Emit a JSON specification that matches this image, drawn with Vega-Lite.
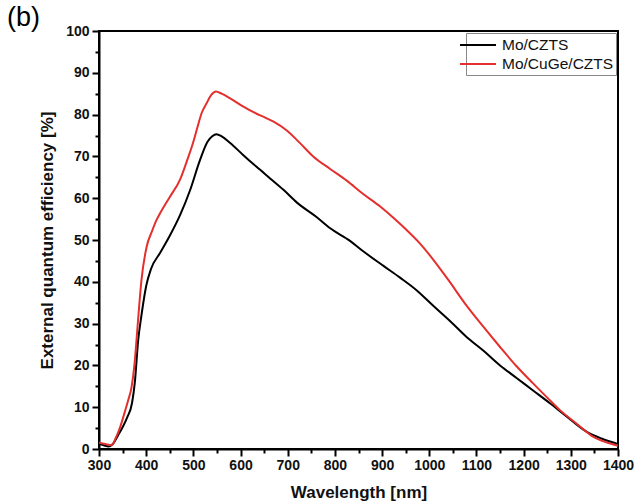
{
  "$schema": "https://vega.github.io/schema/vega-lite/v6.json",
  "width": 519,
  "height": 418,
  "autosize": "none",
  "padding": {"left": 99, "top": 31, "right": 18, "bottom": 53},
  "background": "white",
  "title": {"text": "(b)", "anchor": "start", "frame": "group", "fontSize": 27, "fontWeight": "normal", "font": "Liberation Sans", "dx": -92, "dy": 10, "offset": 2, "color": "black"},
  "config": {
    "view": {"stroke": "black", "strokeWidth": 2},
    "axis": {"domainColor": "black", "domainWidth": 2, "tickColor": "black", "tickWidth": 2, "labelFont": "Liberation Sans", "labelFontWeight": "bold", "labelFontSize": 14, "labelColor": "#111", "titleFont": "Liberation Sans", "titleFontWeight": "bold", "titleFontSize": 17, "titleColor": "#111", "grid": false}
  },
  "data": {"values": [
    {"wl":300,"eqe":1.2,"s":"Mo/CZTS"},{"wl":310,"eqe":0.9,"s":"Mo/CZTS"},{"wl":320,"eqe":0.6,"s":"Mo/CZTS"},{"wl":330,"eqe":1.3,"s":"Mo/CZTS"},{"wl":340,"eqe":3.2,"s":"Mo/CZTS"},{"wl":350,"eqe":5.2,"s":"Mo/CZTS"},{"wl":360,"eqe":7.6,"s":"Mo/CZTS"},{"wl":370,"eqe":11,"s":"Mo/CZTS"},{"wl":376,"eqe":16,"s":"Mo/CZTS"},{"wl":383,"eqe":26,"s":"Mo/CZTS"},{"wl":390,"eqe":32,"s":"Mo/CZTS"},{"wl":400,"eqe":39,"s":"Mo/CZTS"},{"wl":410,"eqe":43,"s":"Mo/CZTS"},{"wl":430,"eqe":47,"s":"Mo/CZTS"},{"wl":450,"eqe":51,"s":"Mo/CZTS"},{"wl":472,"eqe":56,"s":"Mo/CZTS"},{"wl":493,"eqe":61.9,"s":"Mo/CZTS"},{"wl":514,"eqe":69.1,"s":"Mo/CZTS"},{"wl":530,"eqe":73.5,"s":"Mo/CZTS"},{"wl":540,"eqe":74.8,"s":"Mo/CZTS"},{"wl":549,"eqe":75.3,"s":"Mo/CZTS"},{"wl":560,"eqe":74.8,"s":"Mo/CZTS"},{"wl":578,"eqe":73.2,"s":"Mo/CZTS"},{"wl":606,"eqe":70.3,"s":"Mo/CZTS"},{"wl":634,"eqe":67.5,"s":"Mo/CZTS"},{"wl":662,"eqe":64.8,"s":"Mo/CZTS"},{"wl":691,"eqe":62,"s":"Mo/CZTS"},{"wl":719,"eqe":59,"s":"Mo/CZTS"},{"wl":761,"eqe":55.5,"s":"Mo/CZTS"},{"wl":790,"eqe":52.8,"s":"Mo/CZTS"},{"wl":832,"eqe":49.8,"s":"Mo/CZTS"},{"wl":860,"eqe":47.3,"s":"Mo/CZTS"},{"wl":903,"eqe":43.8,"s":"Mo/CZTS"},{"wl":938,"eqe":41,"s":"Mo/CZTS"},{"wl":973,"eqe":38,"s":"Mo/CZTS"},{"wl":1009,"eqe":34.2,"s":"Mo/CZTS"},{"wl":1045,"eqe":30.5,"s":"Mo/CZTS"},{"wl":1079,"eqe":26.8,"s":"Mo/CZTS"},{"wl":1115,"eqe":23.5,"s":"Mo/CZTS"},{"wl":1150,"eqe":20,"s":"Mo/CZTS"},{"wl":1185,"eqe":17,"s":"Mo/CZTS"},{"wl":1220,"eqe":14,"s":"Mo/CZTS"},{"wl":1255,"eqe":11,"s":"Mo/CZTS"},{"wl":1291,"eqe":7.8,"s":"Mo/CZTS"},{"wl":1334,"eqe":4.1,"s":"Mo/CZTS"},{"wl":1365,"eqe":2.5,"s":"Mo/CZTS"},{"wl":1400,"eqe":1.2,"s":"Mo/CZTS"},
    {"wl":300,"eqe":1.5,"s":"Mo/CuGe/CZTS"},{"wl":313,"eqe":1.2,"s":"Mo/CuGe/CZTS"},{"wl":327,"eqe":0.9,"s":"Mo/CuGe/CZTS"},{"wl":335,"eqe":2.5,"s":"Mo/CuGe/CZTS"},{"wl":345,"eqe":5.3,"s":"Mo/CuGe/CZTS"},{"wl":355,"eqe":9,"s":"Mo/CuGe/CZTS"},{"wl":362,"eqe":11.7,"s":"Mo/CuGe/CZTS"},{"wl":369,"eqe":14.8,"s":"Mo/CuGe/CZTS"},{"wl":375,"eqe":20,"s":"Mo/CuGe/CZTS"},{"wl":380,"eqe":26.8,"s":"Mo/CuGe/CZTS"},{"wl":385,"eqe":34,"s":"Mo/CuGe/CZTS"},{"wl":390,"eqe":40.4,"s":"Mo/CuGe/CZTS"},{"wl":401,"eqe":48.4,"s":"Mo/CuGe/CZTS"},{"wl":412,"eqe":52,"s":"Mo/CuGe/CZTS"},{"wl":422,"eqe":54.8,"s":"Mo/CuGe/CZTS"},{"wl":430,"eqe":56.5,"s":"Mo/CuGe/CZTS"},{"wl":450,"eqe":60.3,"s":"Mo/CuGe/CZTS"},{"wl":472,"eqe":64.5,"s":"Mo/CuGe/CZTS"},{"wl":486,"eqe":68.8,"s":"Mo/CuGe/CZTS"},{"wl":500,"eqe":73.5,"s":"Mo/CuGe/CZTS"},{"wl":507,"eqe":76.3,"s":"Mo/CuGe/CZTS"},{"wl":518,"eqe":80.5,"s":"Mo/CuGe/CZTS"},{"wl":528,"eqe":82.7,"s":"Mo/CuGe/CZTS"},{"wl":538,"eqe":84.7,"s":"Mo/CuGe/CZTS"},{"wl":548,"eqe":85.5,"s":"Mo/CuGe/CZTS"},{"wl":560,"eqe":85,"s":"Mo/CuGe/CZTS"},{"wl":578,"eqe":83.9,"s":"Mo/CuGe/CZTS"},{"wl":606,"eqe":81.9,"s":"Mo/CuGe/CZTS"},{"wl":634,"eqe":80.2,"s":"Mo/CuGe/CZTS"},{"wl":648,"eqe":79.5,"s":"Mo/CuGe/CZTS"},{"wl":670,"eqe":78.3,"s":"Mo/CuGe/CZTS"},{"wl":698,"eqe":76.2,"s":"Mo/CuGe/CZTS"},{"wl":725,"eqe":73.3,"s":"Mo/CuGe/CZTS"},{"wl":754,"eqe":70,"s":"Mo/CuGe/CZTS"},{"wl":790,"eqe":67,"s":"Mo/CuGe/CZTS"},{"wl":825,"eqe":64.2,"s":"Mo/CuGe/CZTS"},{"wl":860,"eqe":61,"s":"Mo/CuGe/CZTS"},{"wl":896,"eqe":58,"s":"Mo/CuGe/CZTS"},{"wl":925,"eqe":55.2,"s":"Mo/CuGe/CZTS"},{"wl":952,"eqe":52.4,"s":"Mo/CuGe/CZTS"},{"wl":980,"eqe":49.2,"s":"Mo/CuGe/CZTS"},{"wl":1005,"eqe":45.8,"s":"Mo/CuGe/CZTS"},{"wl":1040,"eqe":40.5,"s":"Mo/CuGe/CZTS"},{"wl":1079,"eqe":34.3,"s":"Mo/CuGe/CZTS"},{"wl":1115,"eqe":29.2,"s":"Mo/CuGe/CZTS"},{"wl":1150,"eqe":24.4,"s":"Mo/CuGe/CZTS"},{"wl":1185,"eqe":19.8,"s":"Mo/CuGe/CZTS"},{"wl":1220,"eqe":15.7,"s":"Mo/CuGe/CZTS"},{"wl":1250,"eqe":12.3,"s":"Mo/CuGe/CZTS"},{"wl":1277,"eqe":9.3,"s":"Mo/CuGe/CZTS"},{"wl":1313,"eqe":6,"s":"Mo/CuGe/CZTS"},{"wl":1348,"eqe":2.9,"s":"Mo/CuGe/CZTS"},{"wl":1375,"eqe":1.6,"s":"Mo/CuGe/CZTS"},{"wl":1400,"eqe":0.8,"s":"Mo/CuGe/CZTS"}
  ]},
  "mark": {"type": "line", "strokeWidth": 2, "interpolate": "monotone", "clip": true},
  "encoding": {
    "x": {"field": "wl", "type": "quantitative", "scale": {"domain": [300, 1400], "nice": false, "zero": false},
      "axis": {"title": "Wavelength [nm]", "format": "d", "values": [300,350,400,450,500,550,600,650,700,750,800,850,900,950,1000,1050,1100,1150,1200,1250,1300,1350,1400],
        "labelExpr": "datum.value % 100 === 0 ? datum.label : ''", "labelFlush": false, "labelOverlap": false, "labelPadding": 2,
        "tickSize": {"condition": {"test": "datum.value % 100 === 0", "value": 7}, "value": 4}, "titlePadding": 12}},
    "y": {"field": "eqe", "type": "quantitative", "scale": {"domain": [0, 100], "nice": false},
      "axis": {"title": "External quantum efficiency [%]", "values": [0,5,10,15,20,25,30,35,40,45,50,55,60,65,70,75,80,85,90,95,100],
        "labelExpr": "datum.value % 10 === 0 ? datum.label : ''", "labelFlush": false, "labelOverlap": false, "labelPadding": 3,
        "tickSize": {"condition": {"test": "datum.value % 10 === 0", "value": 7}, "value": 4}, "titlePadding": 9}},
    "color": {"field": "s", "type": "nominal", "sort": ["Mo/CZTS", "Mo/CuGe/CZTS"],
      "scale": {"domain": ["Mo/CZTS", "Mo/CuGe/CZTS"], "range": ["#000000", "#e3302e"]},
      "legend": {"title": null, "orient": "top-right", "offset": 2, "symbolType": "M-2,0H2", "symbolSize": 324, "symbolStrokeWidth": 2,
        "labelFont": "Liberation Sans", "labelFontSize": 15.5, "labelColor": "#111", "strokeColor": "#888", "padding": 2, "rowPadding": -1, "labelOffset": 14, "fillColor": "white"}}
  }
}
